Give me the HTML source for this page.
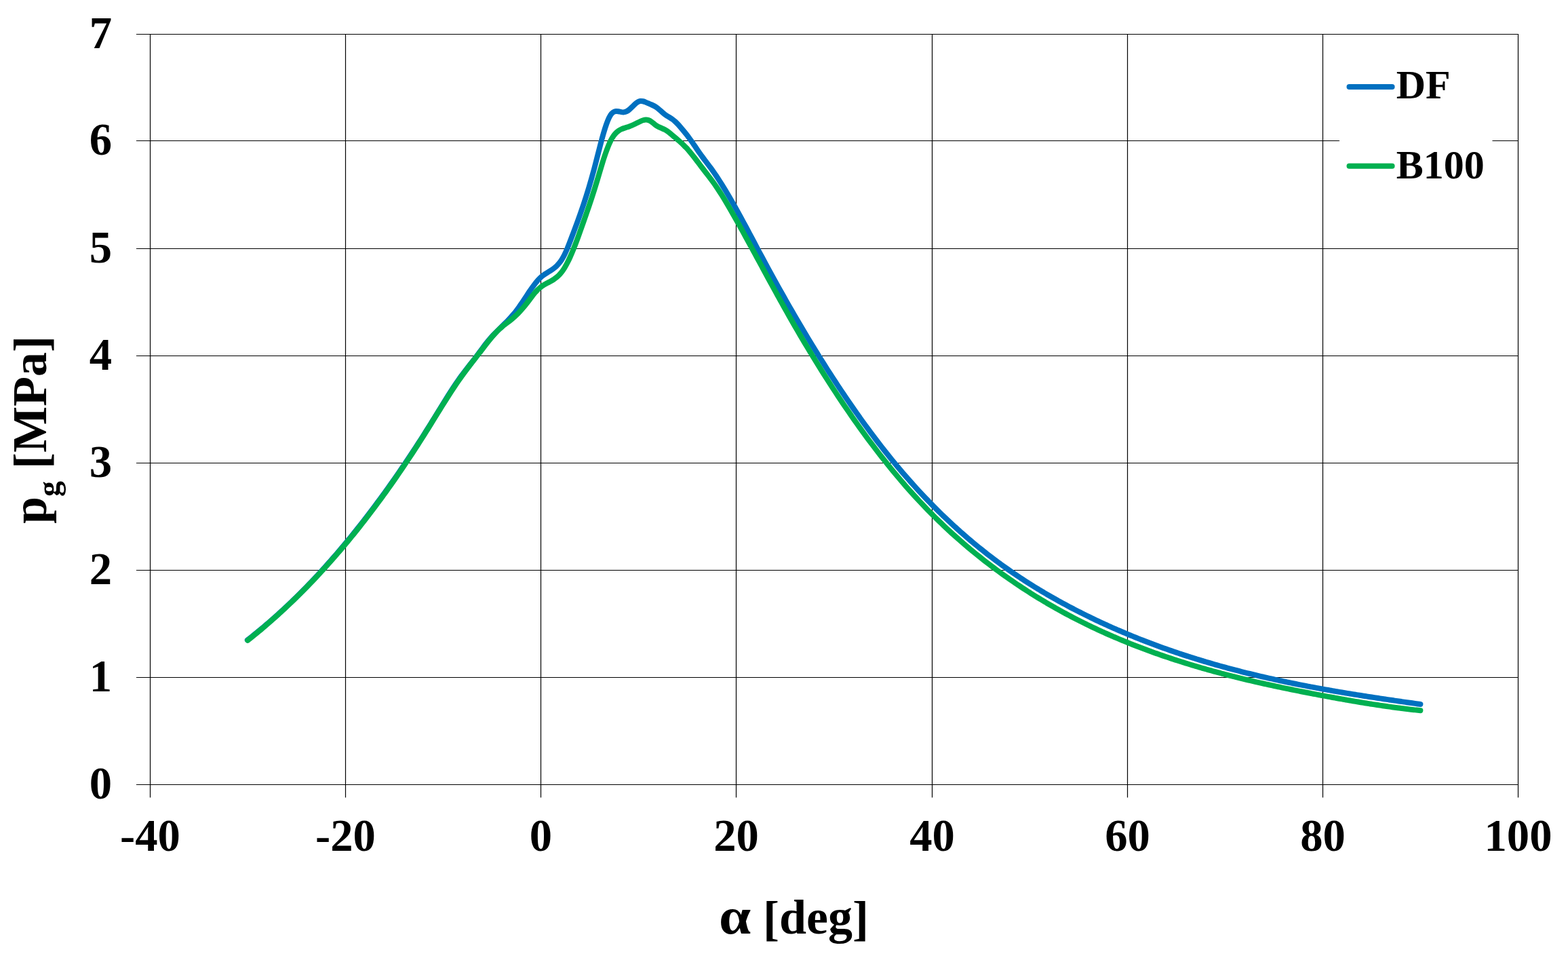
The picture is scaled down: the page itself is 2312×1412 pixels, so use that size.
<!DOCTYPE html>
<html lang="en"><head><meta charset="utf-8">
<title>Cylinder pressure vs crank angle</title>
<style>
html,body{margin:0;padding:0;background:#fff;}
body{width:2312px;height:1412px;overflow:hidden;}
svg{display:block;}
text{font-family:"Liberation Serif",serif;font-weight:bold;fill:#000;}
.g line{stroke:#000;stroke-width:1.2;}
.tk{font-size:66.67px;}
.ti{font-size:72px;}
.lg{font-size:60px;}
.c{fill:none;stroke-width:8;stroke-linecap:round;stroke-linejoin:round;}
</style></head><body>
<svg width="2312" height="1412" viewBox="0 0 2312 1412">
<rect width="2312" height="1412" fill="#fff"/>
<g class="g">
<line x1="201.0" y1="50.5" x2="2239.0" y2="50.5"/>
<line x1="201.0" y1="207.5" x2="2239.0" y2="207.5"/>
<line x1="201.0" y1="366.5" x2="2239.0" y2="366.5"/>
<line x1="201.0" y1="524.5" x2="2239.0" y2="524.5"/>
<line x1="201.0" y1="682.5" x2="2239.0" y2="682.5"/>
<line x1="201.0" y1="840.5" x2="2239.0" y2="840.5"/>
<line x1="201.0" y1="998.5" x2="2239.0" y2="998.5"/>
<line x1="201.0" y1="1156.5" x2="2239.0" y2="1156.5"/>
<line x1="221.5" y1="50.0" x2="221.5" y2="1175.5"/>
<line x1="509.5" y1="50.0" x2="509.5" y2="1175.5"/>
<line x1="797.5" y1="50.0" x2="797.5" y2="1175.5"/>
<line x1="1085.5" y1="50.0" x2="1085.5" y2="1175.5"/>
<line x1="1374.5" y1="50.0" x2="1374.5" y2="1175.5"/>
<line x1="1662.5" y1="50.0" x2="1662.5" y2="1175.5"/>
<line x1="1950.5" y1="50.0" x2="1950.5" y2="1175.5"/>
<line x1="2238.5" y1="50.0" x2="2238.5" y2="1175.5"/>
</g>
<path class="c" stroke="#0070C0" d="M364.80 943.40C366.13 942.37 367.46 941.33 368.79 940.29C370.13 939.24 371.46 938.19 372.79 937.13C374.12 936.07 375.45 935.00 376.78 933.92C378.11 932.85 379.45 931.77 380.78 930.67C382.11 929.58 383.44 928.49 384.77 927.38C386.10 926.27 387.44 925.16 388.77 924.04C390.10 922.92 391.43 921.79 392.76 920.65C394.09 919.51 395.42 918.37 396.76 917.22C398.09 916.06 399.42 914.90 400.75 913.74C402.08 912.57 403.41 911.39 404.74 910.21C406.08 909.03 407.41 907.84 408.74 906.64C410.07 905.44 411.40 904.23 412.73 903.02C414.06 901.81 415.40 900.58 416.73 899.35C418.06 898.12 419.39 896.89 420.72 895.64C422.05 894.40 423.39 893.14 424.72 891.88C426.05 890.62 427.38 889.35 428.71 888.08C430.04 886.80 431.37 885.51 432.71 884.22C434.04 882.93 435.37 881.63 436.70 880.32C438.03 879.01 439.36 877.70 440.69 876.37C442.03 875.05 443.36 873.72 444.69 872.38C446.02 871.04 447.35 869.69 448.68 868.33C450.02 866.98 451.35 865.61 452.68 864.24C454.01 862.87 455.34 861.49 456.67 860.10C458.00 858.72 459.34 857.32 460.67 855.92C462.00 854.51 463.33 853.10 464.66 851.68C465.99 850.26 467.32 848.83 468.66 847.40C469.99 845.96 471.32 844.52 472.65 843.07C473.98 841.61 475.31 840.15 476.64 838.69C477.98 837.22 479.31 835.74 480.64 834.26C481.97 832.77 483.30 831.28 484.63 829.78C485.97 828.28 487.30 826.77 488.63 825.26C489.96 823.74 491.29 822.21 492.62 820.68C493.95 819.15 495.29 817.61 496.62 816.06C497.95 814.51 499.28 812.95 500.61 811.38C501.94 809.82 503.27 808.24 504.61 806.66C505.94 805.08 507.27 803.49 508.60 801.89C509.93 800.29 511.26 798.69 512.59 797.07C513.93 795.46 515.26 793.83 516.59 792.20C517.92 790.57 519.25 788.93 520.58 787.28C521.92 785.63 523.25 783.98 524.58 782.31C525.91 780.65 527.24 778.97 528.57 777.29C529.90 775.61 531.24 773.92 532.57 772.22C533.90 770.52 535.23 768.82 536.56 767.10C537.89 765.39 539.22 763.66 540.56 761.93C541.89 760.20 543.22 758.46 544.55 756.71C545.88 754.96 547.21 753.21 548.55 751.44C549.88 749.67 551.21 747.90 552.54 746.12C553.87 744.34 555.20 742.55 556.53 740.75C557.87 738.95 559.20 737.14 560.53 735.32C561.86 733.51 563.19 731.68 564.52 729.85C565.85 728.02 567.19 726.17 568.52 724.32C569.85 722.47 571.18 720.62 572.51 718.75C573.84 716.88 575.17 715.01 576.51 713.12C577.84 711.24 579.17 709.34 580.50 707.44C581.83 705.54 583.16 703.63 584.50 701.71C585.83 699.79 587.16 697.87 588.49 695.93C589.82 693.99 591.15 692.05 592.48 690.10C593.82 688.14 595.15 686.18 596.48 684.21C597.81 682.24 599.14 680.26 600.47 678.27C601.80 676.28 603.14 674.29 604.47 672.28C605.80 670.28 607.13 668.26 608.46 666.24C609.79 664.22 611.12 662.19 612.46 660.15C613.79 658.11 615.12 656.06 616.45 654.00C617.78 651.94 619.11 649.88 620.45 647.80C621.78 645.73 623.11 643.64 624.44 641.55C625.77 639.46 627.10 637.36 628.43 635.24C629.77 633.13 631.10 631.02 632.43 628.89C633.76 626.76 635.09 624.62 636.42 622.48C637.75 620.33 639.09 618.18 640.42 616.01C641.75 613.85 643.08 611.68 644.41 609.51C645.74 607.34 647.07 605.16 648.41 602.99C649.74 600.82 651.07 598.65 652.40 596.49C653.73 594.33 655.06 592.18 656.40 590.04C657.73 587.90 659.06 585.78 660.39 583.67C661.72 581.56 663.05 579.46 664.38 577.40C665.72 575.33 667.05 573.28 668.38 571.26C669.71 569.24 671.04 567.25 672.37 565.29C673.70 563.33 675.04 561.40 676.37 559.51C677.70 557.62 679.03 555.77 680.36 553.95C681.69 552.14 683.03 550.36 684.36 548.61C685.69 546.86 687.02 545.14 688.35 543.43C689.68 541.71 691.01 540.02 692.35 538.32C693.68 536.63 695.01 534.94 696.34 533.24C697.67 531.53 699.00 529.83 700.33 528.10C701.67 526.37 703.00 524.61 704.33 522.83C705.66 521.05 706.99 519.25 708.32 517.44C709.65 515.63 710.99 513.82 712.32 512.04C713.65 510.25 714.98 508.49 716.31 506.77C717.64 505.05 718.98 503.39 720.31 501.78C721.64 500.18 722.97 498.64 724.30 497.15C725.63 495.66 726.96 494.22 728.30 492.82C729.63 491.42 730.96 490.06 732.29 488.72C733.62 487.39 734.95 486.07 736.28 484.77C737.62 483.47 738.95 482.17 740.28 480.88C741.61 479.58 742.94 478.28 744.27 476.96C745.60 475.64 746.94 474.30 748.27 472.93C749.60 471.56 750.93 470.16 752.26 468.71C753.59 467.26 754.93 465.77 756.26 464.21C757.59 462.66 758.92 461.04 760.25 459.35C761.58 457.67 762.91 455.90 764.25 454.05C765.58 452.21 766.91 450.30 768.24 448.35C769.57 446.40 770.90 444.40 772.23 442.39C773.57 440.38 774.90 438.35 776.23 436.33C777.56 434.31 778.89 432.30 780.22 430.32C781.56 428.34 782.89 426.40 784.22 424.52C785.55 422.64 786.88 420.81 788.21 419.08C789.54 417.34 790.88 415.69 792.21 414.15C793.54 412.61 794.87 411.18 796.20 409.89C797.53 408.60 798.86 407.45 800.20 406.42C801.53 405.39 802.86 404.47 804.19 403.60C805.52 402.74 806.85 401.93 808.18 401.12C809.52 400.31 810.85 399.51 812.18 398.66C813.51 397.81 814.84 396.91 816.17 395.91C817.51 394.91 818.84 393.81 820.17 392.56C821.50 391.31 822.83 389.90 824.16 388.30C825.49 386.69 826.83 384.87 828.16 382.80C829.49 380.74 830.82 378.41 832.15 375.77C833.48 373.14 834.81 370.19 836.15 367.03C837.48 363.87 838.81 360.50 840.14 357.04C841.47 353.58 842.80 350.02 844.13 346.48C845.47 342.94 846.80 339.40 848.13 335.84C849.46 332.27 850.79 328.68 852.12 325.02C853.46 321.37 854.79 317.65 856.12 313.86C857.45 310.06 858.78 306.19 860.11 302.22C861.44 298.25 862.78 294.19 864.11 290.01C865.44 285.84 866.77 281.55 868.10 277.13C869.43 272.72 870.76 268.17 872.10 263.48C873.43 258.79 874.76 253.95 876.09 248.94C877.42 243.94 878.75 238.76 880.08 233.54C881.42 228.32 882.75 223.05 884.08 217.89C885.41 212.72 886.74 207.66 888.07 202.84C889.41 198.02 890.74 193.44 892.07 189.24C893.40 185.05 894.73 181.24 896.06 177.96C897.39 174.68 898.73 171.92 900.06 169.84C901.39 167.75 902.72 166.35 904.05 165.45C905.38 164.54 906.71 164.12 908.05 163.99C909.38 163.86 910.71 164.01 912.04 164.26C913.37 164.50 914.70 164.83 916.04 165.07C917.37 165.30 918.70 165.45 920.03 165.35C921.36 165.25 922.69 164.86 924.02 164.18C925.36 163.49 926.69 162.53 928.02 161.39C929.35 160.26 930.68 158.96 932.01 157.64C933.34 156.33 934.68 154.99 936.01 153.77C937.34 152.56 938.67 151.46 940.00 150.63C941.33 149.80 942.66 149.26 944.00 149.07C945.33 148.87 946.66 148.99 947.99 149.28C949.32 149.58 950.65 150.06 951.99 150.61C953.32 151.15 954.65 151.75 955.98 152.31C957.31 152.87 958.64 153.41 959.97 153.99C961.31 154.57 962.64 155.18 963.97 155.88C965.30 156.58 966.63 157.37 967.96 158.30C969.29 159.23 970.63 160.31 971.96 161.45C973.29 162.59 974.62 163.79 975.95 164.97C977.28 166.14 978.61 167.29 979.95 168.33C981.28 169.36 982.61 170.26 983.94 171.09C985.27 171.93 986.60 172.71 987.94 173.51C989.27 174.32 990.60 175.17 991.93 176.13C993.26 177.10 994.59 178.21 995.92 179.45C997.26 180.70 998.59 182.07 999.92 183.52C1001.25 184.97 1002.58 186.51 1003.91 188.08C1005.24 189.65 1006.58 191.26 1007.91 192.88C1009.24 194.51 1010.57 196.15 1011.90 197.84C1013.23 199.53 1014.57 201.25 1015.90 203.03C1017.23 204.80 1018.56 206.63 1019.89 208.52C1021.22 210.41 1022.55 212.36 1023.89 214.32C1025.22 216.29 1026.55 218.27 1027.88 220.23C1029.21 222.19 1030.54 224.13 1031.87 226.01C1033.21 227.89 1034.54 229.72 1035.87 231.51C1037.20 233.30 1038.53 235.05 1039.86 236.80C1041.19 238.55 1042.53 240.29 1043.86 242.05C1045.19 243.81 1046.52 245.59 1047.85 247.41C1049.18 249.23 1050.52 251.10 1051.85 253.00C1053.18 254.90 1054.51 256.85 1055.84 258.83C1057.17 260.81 1058.50 262.83 1059.84 264.88C1061.17 266.94 1062.50 269.03 1063.83 271.15C1065.16 273.27 1066.49 275.42 1067.82 277.60C1069.16 279.78 1070.49 281.99 1071.82 284.23C1073.15 286.47 1074.48 288.74 1075.81 291.03C1077.14 293.31 1078.48 295.63 1079.81 297.96C1081.14 300.30 1082.47 302.65 1083.80 305.03C1085.13 307.40 1086.47 309.80 1087.80 312.21C1089.13 314.62 1090.46 317.04 1091.79 319.48C1093.12 321.92 1094.45 324.37 1095.79 326.84C1097.12 329.30 1098.45 331.77 1099.78 334.26C1101.11 336.74 1102.44 339.23 1103.77 341.72C1105.11 344.22 1106.44 346.72 1107.77 349.23C1109.10 351.73 1110.43 354.24 1111.76 356.74C1113.09 359.25 1114.43 361.76 1115.76 364.26C1117.09 366.76 1118.42 369.27 1119.75 371.76C1121.08 374.26 1122.42 376.75 1123.75 379.23C1125.08 381.72 1126.41 384.19 1127.74 386.66C1129.07 389.13 1130.40 391.59 1131.74 394.04C1133.07 396.49 1134.40 398.93 1135.73 401.37C1137.06 403.81 1138.39 406.24 1139.72 408.66C1141.06 411.08 1142.39 413.49 1143.72 415.89C1145.05 418.30 1146.38 420.70 1147.71 423.08C1149.05 425.47 1150.38 427.85 1151.71 430.23C1153.04 432.60 1154.37 434.96 1155.70 437.32C1157.03 439.68 1158.37 442.03 1159.70 444.37C1161.03 446.71 1162.36 449.04 1163.69 451.36C1165.02 453.69 1166.35 456.00 1167.69 458.31C1169.02 460.62 1170.35 462.92 1171.68 465.21C1173.01 467.50 1174.34 469.78 1175.67 472.06C1177.01 474.33 1178.34 476.60 1179.67 478.86C1181.00 481.11 1182.33 483.36 1183.66 485.60C1185.00 487.84 1186.33 490.08 1187.66 492.30C1188.99 494.52 1190.32 496.74 1191.65 498.95C1192.98 501.15 1194.32 503.35 1195.65 505.54C1196.98 507.73 1198.31 509.91 1199.64 512.09C1200.97 514.26 1202.30 516.42 1203.64 518.58C1204.97 520.73 1206.30 522.88 1207.63 525.02C1208.96 527.16 1210.29 529.29 1211.62 531.41C1212.96 533.53 1214.29 535.64 1215.62 537.74C1216.95 539.84 1218.28 541.94 1219.61 544.02C1220.95 546.11 1222.28 548.18 1223.61 550.25C1224.94 552.32 1226.27 554.38 1227.60 556.43C1228.93 558.48 1230.27 560.52 1231.60 562.55C1232.93 564.58 1234.26 566.60 1235.59 568.62C1236.92 570.63 1238.25 572.63 1239.59 574.63C1240.92 576.63 1242.25 578.61 1243.58 580.59C1244.91 582.57 1246.24 584.53 1247.58 586.49C1248.91 588.45 1250.24 590.40 1251.57 592.34C1252.90 594.28 1254.23 596.21 1255.56 598.13C1256.90 600.06 1258.23 601.97 1259.56 603.87C1260.89 605.77 1262.22 607.67 1263.55 609.55C1264.88 611.44 1266.22 613.31 1267.55 615.18C1268.88 617.04 1270.21 618.90 1271.54 620.75C1272.87 622.59 1274.20 624.43 1275.54 626.26C1276.87 628.08 1278.20 629.90 1279.53 631.71C1280.86 633.52 1282.19 635.32 1283.53 637.11C1284.86 638.90 1286.19 640.68 1287.52 642.45C1288.85 644.22 1290.18 645.98 1291.51 647.73C1292.85 649.48 1294.18 651.22 1295.51 652.95C1296.84 654.68 1298.17 656.40 1299.50 658.11C1300.83 659.82 1302.17 661.52 1303.50 663.22C1304.83 664.91 1306.16 666.59 1307.49 668.26C1308.82 669.93 1310.15 671.60 1311.49 673.25C1312.82 674.90 1314.15 676.54 1315.48 678.17C1316.81 679.80 1318.14 681.43 1319.48 683.04C1320.81 684.65 1322.14 686.25 1323.47 687.84C1324.80 689.44 1326.13 691.02 1327.46 692.59C1328.80 694.16 1330.13 695.72 1331.46 697.28C1332.79 698.83 1334.12 700.37 1335.45 701.91C1336.78 703.44 1338.12 704.96 1339.45 706.48C1340.78 707.99 1342.11 709.49 1343.44 710.99C1344.77 712.48 1346.11 713.97 1347.44 715.44C1348.77 716.92 1350.10 718.39 1351.43 719.84C1352.76 721.30 1354.09 722.75 1355.43 724.19C1356.76 725.63 1358.09 727.06 1359.42 728.48C1360.75 729.90 1362.08 731.31 1363.41 732.71C1364.75 734.11 1366.08 735.51 1367.41 736.89C1368.74 738.28 1370.07 739.65 1371.40 741.02C1372.73 742.38 1374.07 743.74 1375.40 745.09C1376.73 746.44 1378.06 747.78 1379.39 749.11C1380.72 750.44 1382.06 751.77 1383.39 753.08C1384.72 754.40 1386.05 755.70 1387.38 757.00C1388.71 758.30 1390.04 759.59 1391.38 760.87C1392.71 762.15 1394.04 763.42 1395.37 764.68C1396.70 765.95 1398.03 767.20 1399.36 768.45C1400.70 769.70 1402.03 770.94 1403.36 772.17C1404.69 773.40 1406.02 774.62 1407.35 775.84C1408.68 777.05 1410.02 778.26 1411.35 779.46C1412.68 780.66 1414.01 781.85 1415.34 783.04C1416.67 784.22 1418.01 785.39 1419.34 786.56C1420.67 787.73 1422.00 788.89 1423.33 790.04C1424.66 791.20 1425.99 792.34 1427.33 793.48C1428.66 794.62 1429.99 795.75 1431.32 796.87C1432.65 797.99 1433.98 799.11 1435.31 800.21C1436.65 801.32 1437.98 802.42 1439.31 803.52C1440.64 804.61 1441.97 805.69 1443.30 806.77C1444.63 807.85 1445.97 808.92 1447.30 809.99C1448.63 811.05 1449.96 812.11 1451.29 813.16C1452.62 814.21 1453.96 815.25 1455.29 816.29C1456.62 817.33 1457.95 818.36 1459.28 819.38C1460.61 820.40 1461.94 821.42 1463.28 822.43C1464.61 823.44 1465.94 824.44 1467.27 825.44C1468.60 826.43 1469.93 827.42 1471.26 828.40C1472.60 829.39 1473.93 830.36 1475.26 831.33C1476.59 832.30 1477.92 833.27 1479.25 834.22C1480.59 835.18 1481.92 836.13 1483.25 837.08C1484.58 838.02 1485.91 838.96 1487.24 839.89C1488.57 840.83 1489.91 841.75 1491.24 842.67C1492.57 843.59 1493.90 844.51 1495.23 845.41C1496.56 846.32 1497.89 847.22 1499.23 848.12C1500.56 849.02 1501.89 849.91 1503.22 850.79C1504.55 851.68 1505.88 852.55 1507.21 853.43C1508.55 854.30 1509.88 855.17 1511.21 856.03C1512.54 856.89 1513.87 857.75 1515.20 858.60C1516.54 859.45 1517.87 860.29 1519.20 861.13C1520.53 861.97 1521.86 862.81 1523.19 863.64C1524.52 864.47 1525.86 865.29 1527.19 866.11C1528.52 866.93 1529.85 867.74 1531.18 868.55C1532.51 869.36 1533.84 870.16 1535.18 870.96C1536.51 871.76 1537.84 872.55 1539.17 873.34C1540.50 874.13 1541.83 874.91 1543.16 875.69C1544.50 876.47 1545.83 877.24 1547.16 878.01C1548.49 878.78 1549.82 879.54 1551.15 880.30C1552.49 881.06 1553.82 881.81 1555.15 882.56C1556.48 883.31 1557.81 884.06 1559.14 884.80C1560.47 885.54 1561.81 886.28 1563.14 887.01C1564.47 887.74 1565.80 888.47 1567.13 889.19C1568.46 889.92 1569.79 890.63 1571.13 891.35C1572.46 892.06 1573.79 892.78 1575.12 893.48C1576.45 894.19 1577.78 894.89 1579.12 895.59C1580.45 896.29 1581.78 896.98 1583.11 897.67C1584.44 898.36 1585.77 899.05 1587.10 899.73C1588.44 900.41 1589.77 901.09 1591.10 901.77C1592.43 902.44 1593.76 903.12 1595.09 903.78C1596.42 904.45 1597.76 905.11 1599.09 905.78C1600.42 906.44 1601.75 907.09 1603.08 907.75C1604.41 908.40 1605.74 909.05 1607.08 909.70C1608.41 910.34 1609.74 910.99 1611.07 911.62C1612.40 912.26 1613.73 912.90 1615.07 913.53C1616.40 914.17 1617.73 914.79 1619.06 915.42C1620.39 916.05 1621.72 916.67 1623.05 917.29C1624.39 917.91 1625.72 918.52 1627.05 919.13C1628.38 919.75 1629.71 920.35 1631.04 920.96C1632.37 921.56 1633.71 922.17 1635.04 922.77C1636.37 923.36 1637.70 923.96 1639.03 924.55C1640.36 925.14 1641.69 925.73 1643.03 926.32C1644.36 926.90 1645.69 927.49 1647.02 928.07C1648.35 928.64 1649.68 929.22 1651.02 929.79C1652.35 930.37 1653.68 930.93 1655.01 931.50C1656.34 932.07 1657.67 932.63 1659.00 933.19C1660.34 933.75 1661.67 934.31 1663.00 934.86C1664.33 935.41 1665.66 935.96 1666.99 936.51C1668.32 937.06 1669.66 937.60 1670.99 938.14C1672.32 938.69 1673.65 939.22 1674.98 939.76C1676.31 940.29 1677.64 940.83 1678.98 941.36C1680.31 941.88 1681.64 942.41 1682.97 942.93C1684.30 943.46 1685.63 943.98 1686.97 944.49C1688.30 945.01 1689.63 945.52 1690.96 946.04C1692.29 946.55 1693.62 947.05 1694.95 947.56C1696.29 948.06 1697.62 948.57 1698.95 949.07C1700.28 949.57 1701.61 950.06 1702.94 950.56C1704.27 951.05 1705.61 951.54 1706.94 952.03C1708.27 952.52 1709.60 953.00 1710.93 953.48C1712.26 953.97 1713.60 954.45 1714.93 954.92C1716.26 955.40 1717.59 955.87 1718.92 956.34C1720.25 956.82 1721.58 957.28 1722.92 957.75C1724.25 958.22 1725.58 958.68 1726.91 959.14C1728.24 959.60 1729.57 960.06 1730.90 960.51C1732.24 960.97 1733.57 961.42 1734.90 961.87C1736.23 962.32 1737.56 962.76 1738.89 963.21C1740.22 963.65 1741.56 964.09 1742.89 964.53C1744.22 964.97 1745.55 965.41 1746.88 965.84C1748.21 966.28 1749.55 966.71 1750.88 967.14C1752.21 967.56 1753.54 967.99 1754.87 968.41C1756.20 968.84 1757.53 969.26 1758.87 969.68C1760.20 970.10 1761.53 970.51 1762.86 970.93C1764.19 971.34 1765.52 971.75 1766.85 972.16C1768.19 972.57 1769.52 972.97 1770.85 973.38C1772.18 973.78 1773.51 974.18 1774.84 974.58C1776.17 974.98 1777.51 975.38 1778.84 975.77C1780.17 976.17 1781.50 976.56 1782.83 976.95C1784.16 977.34 1785.50 977.73 1786.83 978.11C1788.16 978.50 1789.49 978.88 1790.82 979.26C1792.15 979.64 1793.48 980.02 1794.82 980.39C1796.15 980.77 1797.48 981.14 1798.81 981.51C1800.14 981.88 1801.47 982.25 1802.80 982.62C1804.14 982.99 1805.47 983.35 1806.80 983.71C1808.13 984.08 1809.46 984.44 1810.79 984.80C1812.13 985.15 1813.46 985.51 1814.79 985.86C1816.12 986.22 1817.45 986.57 1818.78 986.92C1820.11 987.27 1821.45 987.62 1822.78 987.96C1824.11 988.31 1825.44 988.65 1826.77 988.99C1828.10 989.33 1829.43 989.67 1830.77 990.01C1832.10 990.35 1833.43 990.68 1834.76 991.02C1836.09 991.35 1837.42 991.68 1838.75 992.01C1840.09 992.34 1841.42 992.67 1842.75 992.99C1844.08 993.32 1845.41 993.64 1846.74 993.96C1848.08 994.28 1849.41 994.60 1850.74 994.92C1852.07 995.24 1853.40 995.56 1854.73 995.87C1856.06 996.18 1857.40 996.50 1858.73 996.81C1860.06 997.12 1861.39 997.43 1862.72 997.73C1864.05 998.04 1865.38 998.34 1866.72 998.65C1868.05 998.95 1869.38 999.25 1870.71 999.55C1872.04 999.85 1873.37 1000.15 1874.70 1000.44C1876.04 1000.74 1877.37 1001.03 1878.70 1001.33C1880.03 1001.62 1881.36 1001.91 1882.69 1002.20C1884.03 1002.49 1885.36 1002.78 1886.69 1003.06C1888.02 1003.35 1889.35 1003.63 1890.68 1003.92C1892.01 1004.20 1893.35 1004.48 1894.68 1004.76C1896.01 1005.04 1897.34 1005.32 1898.67 1005.59C1900.00 1005.87 1901.33 1006.14 1902.67 1006.42C1904.00 1006.69 1905.33 1006.96 1906.66 1007.23C1907.99 1007.50 1909.32 1007.77 1910.65 1008.04C1911.99 1008.30 1913.32 1008.57 1914.65 1008.83C1915.98 1009.10 1917.31 1009.36 1918.64 1009.62C1919.98 1009.88 1921.31 1010.14 1922.64 1010.40C1923.97 1010.66 1925.30 1010.92 1926.63 1011.17C1927.96 1011.43 1929.30 1011.68 1930.63 1011.94C1931.96 1012.19 1933.29 1012.44 1934.62 1012.69C1935.95 1012.94 1937.28 1013.19 1938.62 1013.44C1939.95 1013.68 1941.28 1013.93 1942.61 1014.18C1943.94 1014.42 1945.27 1014.66 1946.61 1014.91C1947.94 1015.15 1949.27 1015.39 1950.60 1015.63C1951.93 1015.87 1953.26 1016.11 1954.59 1016.35C1955.93 1016.58 1957.26 1016.82 1958.59 1017.05C1959.92 1017.29 1961.25 1017.52 1962.58 1017.76C1963.91 1017.99 1965.25 1018.22 1966.58 1018.45C1967.91 1018.68 1969.24 1018.91 1970.57 1019.14C1971.90 1019.37 1973.23 1019.59 1974.57 1019.82C1975.90 1020.05 1977.23 1020.27 1978.56 1020.50C1979.89 1020.72 1981.22 1020.94 1982.56 1021.17C1983.89 1021.39 1985.22 1021.61 1986.55 1021.83C1987.88 1022.05 1989.21 1022.27 1990.54 1022.48C1991.88 1022.70 1993.21 1022.92 1994.54 1023.14C1995.87 1023.35 1997.20 1023.57 1998.53 1023.78C1999.86 1024.00 2001.20 1024.21 2002.53 1024.42C2003.86 1024.63 2005.19 1024.85 2006.52 1025.06C2007.85 1025.27 2009.18 1025.48 2010.52 1025.69C2011.85 1025.90 2013.18 1026.10 2014.51 1026.31C2015.84 1026.52 2017.17 1026.72 2018.51 1026.93C2019.84 1027.14 2021.17 1027.34 2022.50 1027.55C2023.83 1027.75 2025.16 1027.95 2026.49 1028.16C2027.83 1028.36 2029.16 1028.56 2030.49 1028.76C2031.82 1028.96 2033.15 1029.16 2034.48 1029.36C2035.81 1029.56 2037.15 1029.76 2038.48 1029.96C2039.81 1030.16 2041.14 1030.36 2042.47 1030.56C2043.80 1030.75 2045.14 1030.95 2046.47 1031.15C2047.80 1031.34 2049.13 1031.54 2050.46 1031.73C2051.79 1031.93 2053.12 1032.12 2054.46 1032.32C2055.79 1032.51 2057.12 1032.71 2058.45 1032.90C2059.78 1033.09 2061.11 1033.28 2062.44 1033.48C2063.78 1033.67 2065.11 1033.86 2066.44 1034.05C2067.77 1034.24 2069.10 1034.43 2070.43 1034.62C2071.76 1034.81 2073.10 1035.00 2074.43 1035.19C2075.76 1035.38 2077.09 1035.57 2078.42 1035.76C2079.75 1035.94 2081.09 1036.13 2082.42 1036.32C2083.75 1036.51 2085.08 1036.70 2086.41 1036.88C2087.74 1037.07 2089.07 1037.26 2090.41 1037.44C2091.74 1037.63 2093.07 1037.81 2094.40 1038.00"/>
<path class="c" stroke="#00B050" d="M365.20 943.80C366.53 942.75 367.86 941.70 369.19 940.63C370.52 939.57 371.86 938.50 373.19 937.43C374.52 936.35 375.85 935.27 377.18 934.18C378.51 933.09 379.84 932.00 381.17 930.90C382.51 929.79 383.84 928.68 385.17 927.57C386.50 926.45 387.83 925.33 389.16 924.20C390.49 923.07 391.82 921.93 393.15 920.78C394.49 919.64 395.82 918.49 397.15 917.33C398.48 916.17 399.81 915.01 401.14 913.83C402.47 912.66 403.80 911.48 405.14 910.30C406.47 909.11 407.80 907.91 409.13 906.71C410.46 905.51 411.79 904.30 413.12 903.09C414.45 901.87 415.78 900.65 417.12 899.42C418.45 898.19 419.78 896.95 421.11 895.71C422.44 894.46 423.77 893.21 425.10 891.95C426.43 890.69 427.77 889.42 429.10 888.15C430.43 886.88 431.76 885.59 433.09 884.30C434.42 883.01 435.75 881.72 437.08 880.41C438.41 879.11 439.75 877.80 441.08 876.48C442.41 875.16 443.74 873.83 445.07 872.50C446.40 871.16 447.73 869.82 449.06 868.47C450.40 867.12 451.73 865.76 453.06 864.40C454.39 863.03 455.72 861.66 457.05 860.28C458.38 858.90 459.71 857.51 461.04 856.11C462.38 854.72 463.71 853.31 465.04 851.90C466.37 850.49 467.70 849.07 469.03 847.64C470.36 846.21 471.69 844.78 473.03 843.34C474.36 841.89 475.69 840.44 477.02 838.98C478.35 837.52 479.68 836.05 481.01 834.58C482.34 833.10 483.67 831.62 485.01 830.13C486.34 828.64 487.67 827.14 489.00 825.63C490.33 824.12 491.66 822.61 492.99 821.08C494.32 819.56 495.66 818.03 496.99 816.49C498.32 814.95 499.65 813.40 500.98 811.84C502.31 810.28 503.64 808.72 504.97 807.14C506.30 805.57 507.64 803.99 508.97 802.40C510.30 800.81 511.63 799.21 512.96 797.60C514.29 796.00 515.62 794.38 516.95 792.76C518.29 791.13 519.62 789.50 520.95 787.86C522.28 786.22 523.61 784.57 524.94 782.91C526.27 781.26 527.60 779.59 528.93 777.92C530.27 776.24 531.60 774.56 532.93 772.87C534.26 771.17 535.59 769.47 536.92 767.76C538.25 766.05 539.58 764.34 540.92 762.61C542.25 760.88 543.58 759.15 544.91 757.40C546.24 755.66 547.57 753.91 548.90 752.14C550.23 750.38 551.56 748.61 552.90 746.83C554.23 745.05 555.56 743.26 556.89 741.47C558.22 739.67 559.55 737.86 560.88 736.05C562.21 734.23 563.55 732.41 564.88 730.58C566.21 728.74 567.54 726.90 568.87 725.05C570.20 723.20 571.53 721.34 572.86 719.47C574.19 717.60 575.53 715.72 576.86 713.83C578.19 711.95 579.52 710.05 580.85 708.14C582.18 706.24 583.51 704.32 584.84 702.40C586.18 700.47 587.51 698.54 588.84 696.60C590.17 694.65 591.50 692.70 592.83 690.74C594.16 688.78 595.49 686.81 596.82 684.83C598.16 682.85 599.49 680.86 600.82 678.86C602.15 676.86 603.48 674.85 604.81 672.84C606.14 670.82 607.47 668.79 608.81 666.75C610.14 664.72 611.47 662.67 612.80 660.62C614.13 658.56 615.46 656.49 616.79 654.42C618.12 652.34 619.45 650.26 620.79 648.17C622.12 646.07 623.45 643.97 624.78 641.85C626.11 639.74 627.44 637.62 628.77 635.49C630.10 633.35 631.44 631.21 632.77 629.07C634.10 626.93 635.43 624.78 636.76 622.63C638.09 620.47 639.42 618.32 640.75 616.17C642.08 614.02 643.42 611.86 644.75 609.72C646.08 607.57 647.41 605.42 648.74 603.28C650.07 601.15 651.40 599.01 652.73 596.89C654.07 594.77 655.40 592.66 656.73 590.55C658.06 588.45 659.39 586.36 660.72 584.29C662.05 582.21 663.38 580.15 664.72 578.11C666.05 576.07 667.38 574.05 668.71 572.04C670.04 570.04 671.37 568.05 672.70 566.09C674.03 564.13 675.36 562.20 676.70 560.29C678.03 558.38 679.36 556.49 680.69 554.64C682.02 552.78 683.35 550.95 684.68 549.14C686.01 547.34 687.35 545.55 688.68 543.78C690.01 542.01 691.34 540.26 692.67 538.52C694.00 536.78 695.33 535.06 696.66 533.34C697.99 531.62 699.33 529.91 700.66 528.20C701.99 526.49 703.32 524.78 704.65 523.07C705.98 521.36 707.31 519.65 708.64 517.93C709.98 516.21 711.31 514.48 712.64 512.74C713.97 511.01 715.30 509.25 716.63 507.51C717.96 505.77 719.29 504.05 720.62 502.39C721.96 500.72 723.29 499.10 724.62 497.54C725.95 495.97 727.28 494.45 728.61 492.99C729.94 491.53 731.27 490.12 732.61 488.78C733.94 487.43 735.27 486.14 736.60 484.91C737.93 483.69 739.26 482.53 740.59 481.42C741.92 480.31 743.25 479.25 744.59 478.21C745.92 477.17 747.25 476.16 748.58 475.14C749.91 474.12 751.24 473.09 752.57 472.04C753.90 470.99 755.24 469.90 756.57 468.76C757.90 467.62 759.23 466.42 760.56 465.17C761.89 463.91 763.22 462.59 764.55 461.22C765.88 459.84 767.22 458.41 768.55 456.92C769.88 455.42 771.21 453.87 772.54 452.27C773.87 450.66 775.20 448.99 776.53 447.27C777.87 445.55 779.20 443.78 780.53 442.01C781.86 440.24 783.19 438.48 784.52 436.76C785.85 435.03 787.18 433.36 788.51 431.78C789.85 430.20 791.18 428.72 792.51 427.38C793.84 426.03 795.17 424.85 796.50 423.78C797.83 422.72 799.16 421.78 800.50 420.92C801.83 420.06 803.16 419.27 804.49 418.53C805.82 417.79 807.15 417.09 808.48 416.38C809.81 415.68 811.14 414.97 812.48 414.22C813.81 413.47 815.14 412.68 816.47 411.81C817.80 410.94 819.13 409.98 820.46 408.90C821.79 407.82 823.13 406.61 824.46 405.24C825.79 403.87 827.12 402.33 828.45 400.59C829.78 398.85 831.11 396.90 832.44 394.72C833.77 392.53 835.11 390.13 836.44 387.54C837.77 384.96 839.10 382.18 840.43 379.24C841.76 376.31 843.09 373.21 844.42 369.98C845.76 366.76 847.09 363.40 848.42 359.94C849.75 356.49 851.08 352.93 852.41 349.30C853.74 345.67 855.07 341.97 856.40 338.23C857.74 334.48 859.07 330.70 860.40 326.90C861.73 323.10 863.06 319.29 864.39 315.46C865.72 311.63 867.05 307.77 868.39 303.86C869.72 299.94 871.05 295.98 872.38 291.93C873.71 287.89 875.04 283.77 876.37 279.55C877.70 275.32 879.03 271.00 880.37 266.55C881.70 262.09 883.03 257.52 884.36 253.01C885.69 248.49 887.02 244.04 888.35 239.77C889.68 235.49 891.02 231.38 892.35 227.51C893.68 223.63 895.01 219.99 896.34 216.66C897.67 213.33 899.00 210.30 900.33 207.65C901.66 205.01 903.00 202.74 904.33 200.80C905.66 198.86 906.99 197.24 908.32 195.89C909.65 194.54 910.98 193.45 912.31 192.56C913.65 191.67 914.98 190.97 916.31 190.38C917.64 189.79 918.97 189.31 920.30 188.87C921.63 188.42 922.96 187.99 924.29 187.55C925.63 187.11 926.96 186.66 928.29 186.18C929.62 185.70 930.95 185.19 932.28 184.63C933.61 184.07 934.94 183.44 936.28 182.78C937.61 182.11 938.94 181.41 940.27 180.73C941.60 180.05 942.93 179.39 944.26 178.80C945.59 178.21 946.92 177.69 948.26 177.29C949.59 176.90 950.92 176.63 952.25 176.58C953.58 176.52 954.91 176.67 956.24 177.11C957.57 177.54 958.91 178.29 960.24 179.22C961.57 180.14 962.90 181.23 964.23 182.30C965.56 183.37 966.89 184.44 968.22 185.32C969.55 186.19 970.89 186.89 972.22 187.50C973.55 188.12 974.88 188.65 976.21 189.21C977.54 189.76 978.87 190.34 980.20 191.05C981.54 191.75 982.87 192.60 984.20 193.54C985.53 194.49 986.86 195.53 988.19 196.62C989.52 197.71 990.85 198.85 992.18 199.99C993.52 201.13 994.85 202.26 996.18 203.38C997.51 204.51 998.84 205.64 1000.17 206.78C1001.50 207.93 1002.83 209.09 1004.17 210.29C1005.50 211.49 1006.83 212.73 1008.16 214.03C1009.49 215.32 1010.82 216.68 1012.15 218.10C1013.48 219.53 1014.81 221.03 1016.15 222.59C1017.48 224.15 1018.81 225.77 1020.14 227.42C1021.47 229.08 1022.80 230.78 1024.13 232.51C1025.46 234.23 1026.80 235.98 1028.13 237.74C1029.46 239.50 1030.79 241.27 1032.12 243.04C1033.45 244.80 1034.78 246.56 1036.11 248.29C1037.44 250.02 1038.78 251.74 1040.11 253.45C1041.44 255.16 1042.77 256.87 1044.10 258.60C1045.43 260.32 1046.76 262.06 1048.09 263.83C1049.43 265.60 1050.76 267.41 1052.09 269.26C1053.42 271.11 1054.75 273.01 1056.08 274.97C1057.41 276.92 1058.74 278.92 1060.07 280.96C1061.41 283.01 1062.74 285.10 1064.07 287.22C1065.40 289.35 1066.73 291.51 1068.06 293.70C1069.39 295.90 1070.72 298.12 1072.06 300.37C1073.39 302.63 1074.72 304.90 1076.05 307.20C1077.38 309.50 1078.71 311.82 1080.04 314.16C1081.37 316.49 1082.70 318.84 1084.04 321.20C1085.37 323.56 1086.70 325.93 1088.03 328.31C1089.36 330.69 1090.69 333.08 1092.02 335.48C1093.35 337.87 1094.69 340.28 1096.02 342.69C1097.35 345.10 1098.68 347.52 1100.01 349.95C1101.34 352.37 1102.67 354.80 1104.00 357.24C1105.33 359.67 1106.67 362.11 1108.00 364.56C1109.33 367.00 1110.66 369.45 1111.99 371.90C1113.32 374.35 1114.65 376.80 1115.98 379.26C1117.32 381.71 1118.65 384.17 1119.98 386.63C1121.31 389.08 1122.64 391.54 1123.97 394.00C1125.30 396.45 1126.63 398.91 1127.96 401.37C1129.30 403.82 1130.63 406.27 1131.96 408.72C1133.29 411.17 1134.62 413.62 1135.95 416.06C1137.28 418.51 1138.61 420.95 1139.95 423.38C1141.28 425.82 1142.61 428.25 1143.94 430.67C1145.27 433.10 1146.60 435.51 1147.93 437.93C1149.26 440.34 1150.59 442.74 1151.93 445.14C1153.26 447.53 1154.59 449.92 1155.92 452.30C1157.25 454.68 1158.58 457.05 1159.91 459.41C1161.24 461.77 1162.58 464.12 1163.91 466.46C1165.24 468.80 1166.57 471.14 1167.90 473.46C1169.23 475.78 1170.56 478.10 1171.89 480.40C1173.22 482.71 1174.56 485.01 1175.89 487.29C1177.22 489.58 1178.55 491.86 1179.88 494.13C1181.21 496.40 1182.54 498.66 1183.87 500.91C1185.21 503.16 1186.54 505.40 1187.87 507.63C1189.20 509.86 1190.53 512.09 1191.86 514.30C1193.19 516.51 1194.52 518.72 1195.85 520.91C1197.19 523.11 1198.52 525.30 1199.85 527.47C1201.18 529.65 1202.51 531.82 1203.84 533.97C1205.17 536.13 1206.50 538.28 1207.84 540.42C1209.17 542.56 1210.50 544.69 1211.83 546.81C1213.16 548.93 1214.49 551.04 1215.82 553.15C1217.15 555.25 1218.48 557.34 1219.82 559.42C1221.15 561.51 1222.48 563.58 1223.81 565.65C1225.14 567.71 1226.47 569.77 1227.80 571.81C1229.13 573.86 1230.47 575.89 1231.80 577.92C1233.13 579.95 1234.46 581.97 1235.79 583.97C1237.12 585.98 1238.45 587.98 1239.78 589.97C1241.12 591.96 1242.45 593.94 1243.78 595.91C1245.11 597.88 1246.44 599.84 1247.77 601.79C1249.10 603.74 1250.43 605.68 1251.76 607.61C1253.10 609.55 1254.43 611.47 1255.76 613.38C1257.09 615.29 1258.42 617.20 1259.75 619.09C1261.08 620.99 1262.41 622.87 1263.75 624.74C1265.08 626.62 1266.41 628.48 1267.74 630.34C1269.07 632.19 1270.40 634.04 1271.73 635.88C1273.06 637.71 1274.39 639.54 1275.73 641.36C1277.06 643.17 1278.39 644.98 1279.72 646.78C1281.05 648.57 1282.38 650.36 1283.71 652.14C1285.04 653.92 1286.38 655.69 1287.71 657.44C1289.04 659.20 1290.37 660.95 1291.70 662.69C1293.03 664.43 1294.36 666.16 1295.69 667.88C1297.02 669.60 1298.36 671.31 1299.69 673.01C1301.02 674.71 1302.35 676.40 1303.68 678.08C1305.01 679.76 1306.34 681.43 1307.67 683.09C1309.01 684.75 1310.34 686.40 1311.67 688.05C1313.00 689.69 1314.33 691.32 1315.66 692.94C1316.99 694.56 1318.32 696.17 1319.65 697.77C1320.99 699.38 1322.32 700.97 1323.65 702.55C1324.98 704.13 1326.31 705.70 1327.64 707.27C1328.97 708.83 1330.30 710.38 1331.64 711.92C1332.97 713.46 1334.30 715.00 1335.63 716.52C1336.96 718.04 1338.29 719.55 1339.62 721.06C1340.95 722.56 1342.28 724.05 1343.62 725.53C1344.95 727.02 1346.28 728.49 1347.61 729.95C1348.94 731.41 1350.27 732.87 1351.60 734.31C1352.93 735.75 1354.27 737.18 1355.60 738.61C1356.93 740.03 1358.26 741.45 1359.59 742.85C1360.92 744.25 1362.25 745.65 1363.58 747.03C1364.91 748.42 1366.25 749.80 1367.58 751.16C1368.91 752.53 1370.24 753.89 1371.57 755.24C1372.90 756.59 1374.23 757.92 1375.56 759.26C1376.90 760.59 1378.23 761.91 1379.56 763.22C1380.89 764.53 1382.22 765.84 1383.55 767.13C1384.88 768.43 1386.21 769.71 1387.54 770.99C1388.88 772.27 1390.21 773.54 1391.54 774.80C1392.87 776.06 1394.20 777.31 1395.53 778.56C1396.86 779.80 1398.19 781.04 1399.53 782.27C1400.86 783.49 1402.19 784.71 1403.52 785.93C1404.85 787.14 1406.18 788.34 1407.51 789.54C1408.84 790.73 1410.17 791.92 1411.51 793.10C1412.84 794.28 1414.17 795.45 1415.50 796.61C1416.83 797.78 1418.16 798.94 1419.49 800.08C1420.82 801.23 1422.16 802.38 1423.49 803.51C1424.82 804.64 1426.15 805.77 1427.48 806.89C1428.81 808.01 1430.14 809.12 1431.47 810.23C1432.80 811.33 1434.14 812.43 1435.47 813.52C1436.80 814.61 1438.13 815.70 1439.46 816.77C1440.79 817.85 1442.12 818.92 1443.45 819.98C1444.79 821.05 1446.12 822.10 1447.45 823.15C1448.78 824.20 1450.11 825.25 1451.44 826.29C1452.77 827.32 1454.10 828.35 1455.43 829.38C1456.77 830.40 1458.10 831.42 1459.43 832.43C1460.76 833.44 1462.09 834.45 1463.42 835.45C1464.75 836.45 1466.08 837.44 1467.42 838.43C1468.75 839.41 1470.08 840.39 1471.41 841.37C1472.74 842.35 1474.07 843.32 1475.40 844.28C1476.73 845.24 1478.06 846.20 1479.40 847.15C1480.73 848.10 1482.06 849.05 1483.39 849.99C1484.72 850.93 1486.05 851.87 1487.38 852.80C1488.71 853.73 1490.05 854.65 1491.38 855.57C1492.71 856.49 1494.04 857.40 1495.37 858.31C1496.70 859.21 1498.03 860.12 1499.36 861.01C1500.69 861.91 1502.03 862.80 1503.36 863.68C1504.69 864.57 1506.02 865.45 1507.35 866.32C1508.68 867.20 1510.01 868.07 1511.34 868.93C1512.68 869.79 1514.01 870.65 1515.34 871.50C1516.67 872.36 1518.00 873.20 1519.33 874.05C1520.66 874.89 1521.99 875.73 1523.32 876.56C1524.66 877.39 1525.99 878.22 1527.32 879.04C1528.65 879.86 1529.98 880.68 1531.31 881.49C1532.64 882.30 1533.97 883.11 1535.31 883.91C1536.64 884.71 1537.97 885.51 1539.30 886.30C1540.63 887.09 1541.96 887.88 1543.29 888.66C1544.62 889.44 1545.95 890.22 1547.29 890.99C1548.62 891.77 1549.95 892.53 1551.28 893.30C1552.61 894.06 1553.94 894.82 1555.27 895.57C1556.60 896.32 1557.94 897.07 1559.27 897.81C1560.60 898.56 1561.93 899.30 1563.26 900.03C1564.59 900.77 1565.92 901.50 1567.25 902.22C1568.58 902.95 1569.92 903.67 1571.25 904.38C1572.58 905.10 1573.91 905.81 1575.24 906.52C1576.57 907.22 1577.90 907.93 1579.23 908.63C1580.57 909.32 1581.90 910.02 1583.23 910.71C1584.56 911.40 1585.89 912.08 1587.22 912.76C1588.55 913.44 1589.88 914.12 1591.21 914.79C1592.55 915.46 1593.88 916.13 1595.21 916.80C1596.54 917.46 1597.87 918.12 1599.20 918.77C1600.53 919.43 1601.86 920.08 1603.20 920.73C1604.53 921.38 1605.86 922.02 1607.19 922.66C1608.52 923.30 1609.85 923.93 1611.18 924.56C1612.51 925.19 1613.84 925.82 1615.18 926.44C1616.51 927.07 1617.84 927.69 1619.17 928.30C1620.50 928.92 1621.83 929.53 1623.16 930.14C1624.49 930.74 1625.83 931.35 1627.16 931.95C1628.49 932.55 1629.82 933.14 1631.15 933.74C1632.48 934.33 1633.81 934.92 1635.14 935.50C1636.47 936.09 1637.81 936.67 1639.14 937.25C1640.47 937.82 1641.80 938.40 1643.13 938.97C1644.46 939.54 1645.79 940.11 1647.12 940.67C1648.46 941.23 1649.79 941.79 1651.12 942.35C1652.45 942.91 1653.78 943.46 1655.11 944.01C1656.44 944.56 1657.77 945.11 1659.10 945.65C1660.44 946.19 1661.77 946.73 1663.10 947.27C1664.43 947.81 1665.76 948.34 1667.09 948.87C1668.42 949.40 1669.75 949.92 1671.09 950.45C1672.42 950.97 1673.75 951.49 1675.08 952.01C1676.41 952.53 1677.74 953.04 1679.07 953.55C1680.40 954.06 1681.73 954.57 1683.07 955.07C1684.40 955.58 1685.73 956.08 1687.06 956.58C1688.39 957.07 1689.72 957.57 1691.05 958.06C1692.38 958.55 1693.72 959.04 1695.05 959.53C1696.38 960.01 1697.71 960.50 1699.04 960.98C1700.37 961.46 1701.70 961.93 1703.03 962.41C1704.36 962.88 1705.70 963.35 1707.03 963.82C1708.36 964.29 1709.69 964.76 1711.02 965.22C1712.35 965.68 1713.68 966.14 1715.01 966.60C1716.35 967.05 1717.68 967.51 1719.01 967.96C1720.34 968.41 1721.67 968.86 1723.00 969.30C1724.33 969.75 1725.66 970.19 1726.99 970.63C1728.33 971.07 1729.66 971.51 1730.99 971.95C1732.32 972.38 1733.65 972.81 1734.98 973.24C1736.31 973.67 1737.64 974.10 1738.98 974.52C1740.31 974.95 1741.64 975.37 1742.97 975.79C1744.30 976.21 1745.63 976.62 1746.96 977.04C1748.29 977.45 1749.62 977.86 1750.96 978.27C1752.29 978.68 1753.62 979.09 1754.95 979.49C1756.28 979.89 1757.61 980.29 1758.94 980.69C1760.27 981.09 1761.61 981.49 1762.94 981.88C1764.27 982.28 1765.60 982.67 1766.93 983.06C1768.26 983.45 1769.59 983.83 1770.92 984.22C1772.25 984.60 1773.59 984.99 1774.92 985.37C1776.25 985.75 1777.58 986.12 1778.91 986.50C1780.24 986.88 1781.57 987.25 1782.90 987.62C1784.24 987.99 1785.57 988.36 1786.90 988.73C1788.23 989.09 1789.56 989.46 1790.89 989.82C1792.22 990.18 1793.55 990.54 1794.88 990.90C1796.22 991.26 1797.55 991.62 1798.88 991.97C1800.21 992.32 1801.54 992.68 1802.87 993.03C1804.20 993.38 1805.53 993.72 1806.87 994.07C1808.20 994.41 1809.53 994.76 1810.86 995.10C1812.19 995.44 1813.52 995.78 1814.85 996.12C1816.18 996.46 1817.52 996.79 1818.85 997.13C1820.18 997.46 1821.51 997.79 1822.84 998.13C1824.17 998.46 1825.50 998.78 1826.83 999.11C1828.16 999.44 1829.50 999.76 1830.83 1000.09C1832.16 1000.41 1833.49 1000.73 1834.82 1001.05C1836.15 1001.37 1837.48 1001.69 1838.81 1002.00C1840.15 1002.32 1841.48 1002.63 1842.81 1002.95C1844.14 1003.26 1845.47 1003.57 1846.80 1003.88C1848.13 1004.19 1849.46 1004.50 1850.79 1004.80C1852.13 1005.11 1853.46 1005.41 1854.79 1005.72C1856.12 1006.02 1857.45 1006.32 1858.78 1006.62C1860.11 1006.92 1861.44 1007.22 1862.78 1007.52C1864.11 1007.81 1865.44 1008.11 1866.77 1008.40C1868.10 1008.70 1869.43 1008.99 1870.76 1009.28C1872.09 1009.57 1873.42 1009.86 1874.76 1010.15C1876.09 1010.44 1877.42 1010.73 1878.75 1011.01C1880.08 1011.30 1881.41 1011.58 1882.74 1011.86C1884.07 1012.15 1885.41 1012.43 1886.74 1012.71C1888.07 1012.99 1889.40 1013.27 1890.73 1013.55C1892.06 1013.82 1893.39 1014.10 1894.72 1014.38C1896.05 1014.65 1897.39 1014.92 1898.72 1015.20C1900.05 1015.47 1901.38 1015.74 1902.71 1016.01C1904.04 1016.28 1905.37 1016.55 1906.70 1016.82C1908.04 1017.09 1909.37 1017.36 1910.70 1017.62C1912.03 1017.89 1913.36 1018.16 1914.69 1018.42C1916.02 1018.68 1917.35 1018.95 1918.68 1019.21C1920.02 1019.47 1921.35 1019.73 1922.68 1019.99C1924.01 1020.25 1925.34 1020.51 1926.67 1020.77C1928.00 1021.03 1929.33 1021.29 1930.67 1021.54C1932.00 1021.80 1933.33 1022.06 1934.66 1022.31C1935.99 1022.56 1937.32 1022.82 1938.65 1023.07C1939.98 1023.33 1941.31 1023.58 1942.65 1023.83C1943.98 1024.08 1945.31 1024.33 1946.64 1024.58C1947.97 1024.83 1949.30 1025.08 1950.63 1025.33C1951.96 1025.58 1953.30 1025.83 1954.63 1026.07C1955.96 1026.32 1957.29 1026.57 1958.62 1026.81C1959.95 1027.06 1961.28 1027.30 1962.61 1027.55C1963.94 1027.79 1965.28 1028.03 1966.61 1028.28C1967.94 1028.52 1969.27 1028.76 1970.60 1029.00C1971.93 1029.24 1973.26 1029.48 1974.59 1029.72C1975.93 1029.96 1977.26 1030.20 1978.59 1030.43C1979.92 1030.67 1981.25 1030.90 1982.58 1031.14C1983.91 1031.37 1985.24 1031.61 1986.57 1031.84C1987.91 1032.07 1989.24 1032.30 1990.57 1032.53C1991.90 1032.76 1993.23 1032.99 1994.56 1033.22C1995.89 1033.44 1997.22 1033.67 1998.56 1033.89C1999.89 1034.12 2001.22 1034.34 2002.55 1034.56C2003.88 1034.79 2005.21 1035.01 2006.54 1035.23C2007.87 1035.45 2009.20 1035.67 2010.54 1035.88C2011.87 1036.10 2013.20 1036.31 2014.53 1036.53C2015.86 1036.74 2017.19 1036.95 2018.52 1037.16C2019.85 1037.38 2021.19 1037.58 2022.52 1037.79C2023.85 1038.00 2025.18 1038.21 2026.51 1038.41C2027.84 1038.62 2029.17 1038.82 2030.50 1039.02C2031.83 1039.22 2033.17 1039.42 2034.50 1039.62C2035.83 1039.82 2037.16 1040.01 2038.49 1040.21C2039.82 1040.40 2041.15 1040.59 2042.48 1040.78C2043.82 1040.98 2045.15 1041.16 2046.48 1041.35C2047.81 1041.54 2049.14 1041.72 2050.47 1041.91C2051.80 1042.09 2053.13 1042.27 2054.46 1042.45C2055.80 1042.63 2057.13 1042.81 2058.46 1042.98C2059.79 1043.16 2061.12 1043.33 2062.45 1043.50C2063.78 1043.68 2065.11 1043.85 2066.45 1044.01C2067.78 1044.18 2069.11 1044.34 2070.44 1044.51C2071.77 1044.67 2073.10 1044.83 2074.43 1044.99C2075.76 1045.15 2077.09 1045.31 2078.43 1045.46C2079.76 1045.61 2081.09 1045.77 2082.42 1045.92C2083.75 1046.07 2085.08 1046.21 2086.41 1046.36C2087.74 1046.50 2089.08 1046.65 2090.41 1046.79C2091.74 1046.93 2093.07 1047.06 2094.40 1047.20"/>
<rect x="1975" y="95" width="225.5" height="195" fill="#fff"/>
<path class="c" stroke="#0070C0" d="M1989.5 128H2052.6"/>
<path class="c" stroke="#00B050" d="M1989.5 244.7H2052.6"/>
<text class="lg" x="2058.7" y="145.4">DF</text>
<text class="lg" x="2058.7" y="262.5">B100</text>
<text class="tk" text-anchor="end" x="165" y="71.0">7</text>
<text class="tk" text-anchor="end" x="165" y="228.0">6</text>
<text class="tk" text-anchor="end" x="165" y="387.0">5</text>
<text class="tk" text-anchor="end" x="165" y="545.0">4</text>
<text class="tk" text-anchor="end" x="165" y="703.0">3</text>
<text class="tk" text-anchor="end" x="165" y="861.0">2</text>
<text class="tk" text-anchor="end" x="165" y="1019.0">1</text>
<text class="tk" text-anchor="end" x="165" y="1177.0">0</text>
<text class="tk" text-anchor="middle" x="221.5" y="1254">-40</text>
<text class="tk" text-anchor="middle" x="509.5" y="1254">-20</text>
<text class="tk" text-anchor="middle" x="797.5" y="1254">0</text>
<text class="tk" text-anchor="middle" x="1085.5" y="1254">20</text>
<text class="tk" text-anchor="middle" x="1374.5" y="1254">40</text>
<text class="tk" text-anchor="middle" x="1662.5" y="1254">60</text>
<text class="tk" text-anchor="middle" x="1950.5" y="1254">80</text>
<text class="tk" text-anchor="middle" x="2238.5" y="1254">100</text>
<text class="ti" style="font-size:76px" transform="translate(1059.95 1376) scale(1.114 1)">α</text>
<text class="ti" x="1125.1" y="1376"><tspan dy="1.7">[</tspan><tspan dy="-1.7">deg</tspan><tspan dy="1.7">]</tspan></text>
<text class="ti" text-anchor="middle" transform="translate(68.2 633.5) rotate(-90)">p<tspan style="font-size:46px" dy="18.5">g</tspan><tspan dy="-16.8"> [</tspan><tspan dy="-1.7">MPa</tspan><tspan dy="1.7">]</tspan></text>
</svg>
</body></html>
